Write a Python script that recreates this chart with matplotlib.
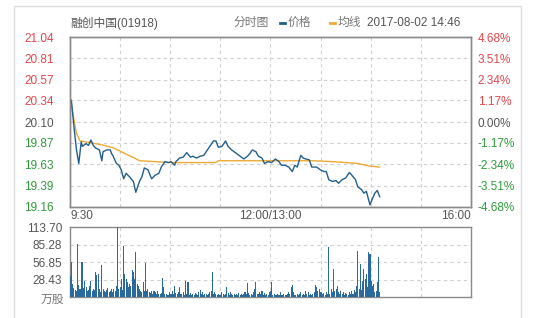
import numpy as np
import matplotlib
matplotlib.use("Agg")
import matplotlib.pyplot as plt
from matplotlib.patches import Rectangle
from matplotlib.lines import Line2D

plt.rcParams['font.family'] = ['Liberation Sans', 'Noto Sans CJK SC', 'DejaVu Sans']

# ---- data (minutes after 9:30, trading time only) ----
stock_name = "融创中国(01918)"
quote_time = "2017-08-02 14:46"
prev_close = 20.10

price_ticks = [19.16, 19.39, 19.63, 19.87, 20.10, 20.34, 20.57, 20.81, 21.04]
pct_labels = ["-4.68%", "-3.51%", "-2.34%", "-1.17%", "0.00%", "1.17%", "2.34%", "3.51%", "4.68%"]
vol_ticks = [28.43, 56.85, 85.28, 113.70]

price_min = [0, 1, 3, 5, 7, 9, 10, 13, 15, 17, 19, 21, 24, 26, 27, 30, 33, 34, 35, 38,
             40, 42, 44, 46, 49, 52, 54, 57, 59, 61, 64, 67, 70, 73, 75, 78, 81, 83, 86, 87,
             90, 93, 96, 99, 101, 104, 107, 110, 113, 115, 118, 120, 122, 125, 128, 130, 133, 136, 139, 143,
             146, 148, 150, 153, 155, 158, 160, 163, 166, 169, 172, 174, 177, 180, 183, 185, 187, 190, 192, 194,
             197, 199, 203, 206, 209, 211, 213, 216, 219, 221, 224, 227, 230, 232, 235, 237, 240, 242, 244, 247,
             249, 251, 253, 255]
price = [20.36, 20.33, 20.05, 19.80, 19.64, 19.88, 19.83, 19.86, 19.84, 19.90, 19.84, 19.81, 19.79, 19.67, 19.77, 19.79, 19.79, 19.75, 19.73, 19.64,
         19.62, 19.57, 19.47, 19.53, 19.49, 19.44, 19.32, 19.44, 19.49, 19.59, 19.57, 19.47, 19.51, 19.53, 19.60, 19.66, 19.65, 19.66, 19.62, 19.66,
         19.70, 19.71, 19.76, 19.71, 19.72, 19.70, 19.72, 19.73, 19.79, 19.83, 19.89, 19.89, 19.82, 19.83, 19.89, 19.83, 19.79, 19.76, 19.73, 19.69,
         19.72, 19.75, 19.79, 19.77, 19.72, 19.70, 19.64, 19.66, 19.65, 19.69, 19.66, 19.62, 19.62, 19.60, 19.55, 19.62, 19.60, 19.73, 19.70, 19.69,
         19.68, 19.60, 19.60, 19.57, 19.55, 19.55, 19.46, 19.44, 19.45, 19.42, 19.46, 19.48, 19.54, 19.51, 19.46, 19.38, 19.35, 19.31, 19.33, 19.18,
         19.25, 19.31, 19.34, 19.27]

avg_min = [0, 2, 5, 8, 17, 28, 36, 42, 48, 53, 57, 70, 81, 120, 122, 200, 217, 237, 247, 255]
avg_price = [20.34, 20.20, 19.98, 19.89, 19.87, 19.84, 19.81, 19.77, 19.73, 19.70, 19.67, 19.66, 19.65, 19.65, 19.67, 19.67, 19.66, 19.64, 19.61, 19.60]

# volume in 万股, one bar per minute
volume = [35, 58, 22, 15, 12, 11, 86, 20, 13, 58,
          58, 15, 27, 16, 10, 12, 19, 27, 11, 14,
          12, 41, 36, 38, 14, 9, 53, 14, 11, 8,
          12, 15, 9, 11, 14, 8, 13, 10, 18, 114,
          14, 16, 30, 12, 84, 38, 30, 25, 16, 22,
          19, 44, 41, 30, 74, 22, 19, 14, 11, 9,
          25, 10, 55, 11, 13, 8, 7, 10, 6, 11,
          8, 5, 10, 6, 5, 7, 32, 16, 6, 5,
          3, 4, 8, 6, 11, 5, 19, 7, 5, 8,
          16, 6, 5, 8, 3, 27, 6, 25, 4, 7,
          3, 5, 4, 7, 5, 4, 8, 12, 5, 8,
          3, 5, 6, 3, 5, 8, 10, 41, 6, 8,
          5, 4, 6, 3, 4, 9, 6, 3, 5, 16,
          7, 4, 8, 5, 3, 6, 3, 5, 4, 7,
          4, 6, 3, 5, 8, 6, 23, 7, 4, 5,
          3, 8, 14, 25, 5, 6, 8, 5, 10, 4,
          7, 3, 6, 4, 8, 10, 25, 3, 5, 3,
          4, 6, 3, 8, 4, 3, 6, 4, 3, 5,
          8, 6, 16, 20, 8, 4, 3, 6, 3, 5,
          8, 3, 5, 4, 10, 5, 8, 3, 6, 4,
          5, 8, 20, 16, 10, 14, 9, 8, 5, 7,
          3, 8, 5, 82, 5, 13, 8, 46, 10, 14,
          19, 8, 5, 11, 6, 8, 4, 7, 5, 3,
          8, 6, 10, 5, 12, 8, 18, 75, 14, 54,
          12, 27, 46, 30, 38, 16, 73, 71, 27, 19,
          22, 8, 10, 25, 65, 8]

session_len = 330  # 9:30-12:00 + 13:00-16:00

line_blue = '#245f8a'
bar_blue = '#2a6a9c'
avg_orange = '#ecaa35'
red = '#e0474c'
green = '#2f9a3a'
gray = '#555555'
light_gray = '#777777'
grid_c = '#cfcfcf'
spine_c = '#8a8a8a'

W, H = 539, 318
fig = plt.figure(figsize=(W / 100, H / 100), dpi=100, facecolor='white')

# outer light frame
fig.patches.append(Rectangle((0.026, -0.02), 0.9406, 1.0011, transform=fig.transFigure,
                             fill=False, edgecolor='#dddddd', linewidth=1))

ax = fig.add_axes([0.1304, 0.35, 0.7429, 0.5327])
axv = fig.add_axes([0.1304, 0.0651, 0.7429, 0.2201])

vgrid = np.linspace(0, session_len, 9)[1:-1]

# price panel
ax.plot(price_min, price, color=line_blue, linewidth=1.0, zorder=3)
ax.plot(avg_min, avg_price, color=avg_orange, linewidth=1.0, zorder=2)
ax.set_xlim(0, session_len)
ax.set_ylim(price_ticks[0], price_ticks[-1])
ax.set_yticks(price_ticks)
ax.set_yticklabels(["%.2f" % p for p in price_ticks])
for lab, p in zip(ax.get_yticklabels(), price_ticks):
    lab.set_color(red if p > prev_close else (green if p < prev_close else gray))
for p in price_ticks[1:-1]:
    ax.axhline(p, color=grid_c, linestyle=(0, (3, 3)), linewidth=0.8, zorder=1)
for v in vgrid:
    ax.axvline(v, color=grid_c, linestyle=(0, (3, 3)), linewidth=0.8, zorder=1)
ax.set_xticks([])
ax.tick_params(axis='y', length=0, pad=12, labelsize=8.5)

axr = ax.twinx()
axr.set_ylim(price_ticks[0], price_ticks[-1])
axr.set_yticks(price_ticks)
axr.set_yticklabels(pct_labels)
for lab, p in zip(axr.get_yticklabels(), price_ticks):
    lab.set_color(red if p > prev_close else (green if p < prev_close else gray))
axr.tick_params(axis='y', length=0, pad=5, labelsize=8.5)

for a in (ax, axr, axv):
    for s in a.spines.values():
        s.set_color(spine_c)
        s.set_linewidth(1)

# time labels
ax.text(0, -0.02, "9:30", transform=ax.transAxes, ha='left', va='top', fontsize=8.5, color=gray)
ax.text(0.5, -0.02, "12:00/13:00", transform=ax.transAxes, ha='center', va='top', fontsize=8.5, color=gray)
ax.text(1, -0.02, "16:00", transform=ax.transAxes, ha='right', va='top', fontsize=8.5, color=gray)

# volume panel
axv.bar(np.arange(len(volume)), volume, width=0.85, color=bar_blue, linewidth=0, zorder=3)
axv.set_xlim(0, session_len)
axv.set_ylim(0, vol_ticks[-1])
axv.set_yticks(vol_ticks)
axv.set_yticklabels(["%.2f" % v for v in vol_ticks])
axv.tick_params(axis='y', length=0, pad=6, labelsize=8.5, labelcolor=gray)
axv.set_xticks([])
for v in vol_ticks[:-1]:
    axv.axhline(v, color=grid_c, linestyle=(0, (3, 3)), linewidth=0.8, zorder=1)
for v in vgrid:
    axv.axvline(v, color=grid_c, linestyle=(0, (3, 3)), linewidth=0.8, zorder=1)
axv.text(-0.016, -0.04, "万股", transform=axv.transAxes, ha='right', va='center', fontsize=8.5, color=light_gray)

# header
hy = 1 - 23 / H
fig.text(70 / W, hy, stock_name, ha='left', va='center', fontsize=8.5, color=gray)
fig.text(233 / W, hy, "分时图", ha='left', va='center', fontsize=8.5, color=light_gray)
fig.lines.append(Line2D([280 / W, 285 / W], [hy, hy], transform=fig.transFigure, color=line_blue, linewidth=2))
fig.text(288 / W, hy, "价格", ha='left', va='center', fontsize=8.5, color=light_gray)
fig.lines.append(Line2D([330 / W, 335 / W], [hy, hy], transform=fig.transFigure, color=avg_orange, linewidth=2))
fig.text(338 / W, hy, "均线", ha='left', va='center', fontsize=8.5, color=light_gray)
fig.text(367 / W, hy, quote_time, ha='left', va='center', fontsize=8.5, color=gray)

fig.savefig("out.png", dpi=100, facecolor='white')
